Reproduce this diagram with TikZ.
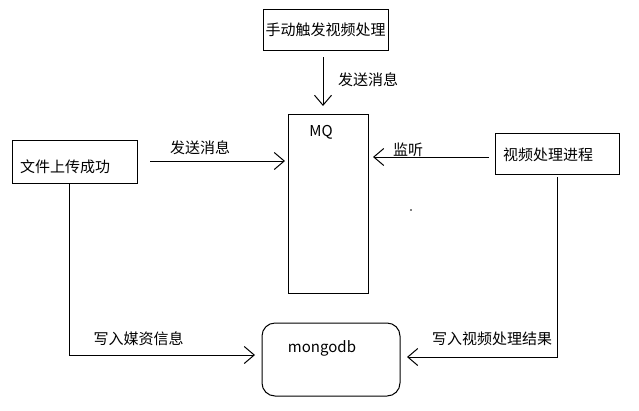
\documentclass[tikz,border=0pt]{standalone}
\usepackage{fontspec}
\setmainfont{Noto Sans CJK SC}
\usetikzlibrary{arrows.meta}
\begin{document}
\begin{tikzpicture}[x=1pt,y=-1pt,
  every node/.style={font=\fontsize{15pt}{18pt}\selectfont, inner sep=0pt},
  boxnode/.style={draw, line width=1pt, minimum width=#1, fill=none},
  conn/.style={line width=1pt},
  arr/.style={line width=1pt, -{Straight Barb[length=10pt,width=17pt]}}]
\useasboundingbox[fill=white] (0,0) rectangle (639,410);
% boxes
\node[draw, line width=1pt, minimum width=125pt, minimum height=41pt] (top) at (325.5,29.5) {手动触发视频处理};
\node[draw, line width=1pt, minimum width=80pt, minimum height=179pt] (mq) at (328,203.5) {};
\node (mqtxt) at (321,132) {MQ};
\node[draw, line width=1pt, minimum width=125pt, minimum height=43pt] (lbox) at (74.5,161.5) {};
\node[anchor=west] (ltxt) at (20,167) {文件上传成功};
\node[draw, line width=1pt, minimum width=124pt, minimum height=41pt] (rbox) at (557,153.5) {};
\node (rtxt) at (548,155) {视频处理进程};
\node[draw, line width=1pt, rounded corners=13pt, minimum width=138pt, minimum height=73pt] (db) at (331,359.5) {};
\node (dbtxt) at (322,348) {mongodb};
% coordinates
\coordinate (t1) at (323,57);
\coordinate (t2) at (323,106);
\coordinate (l1) at (150,161);
\coordinate (l2) at (285,161);
\coordinate (r1) at (489,157);
\coordinate (r2) at (373,157);
\coordinate (lb1) at (69,183);
\coordinate (lb2) at (69,355);
\coordinate (lb3) at (255,355);
\coordinate (rb1) at (557,177);
\coordinate (rb2) at (557,357);
\coordinate (rb3) at (407,357);
% connectors
\draw[arr] (t1) -- (t2);
\draw[arr] (l1) -- (l2);
\draw[arr] (r1) -- (r2);
\draw[arr] (lb1) -- (lb2) -- (lb3);
\draw[arr] (rb1) -- (rb2) -- (rb3);
% labels
\node (lab1) at (368,80) {发送消息};
\node (lab2) at (200,148) {发送消息};
\node (lab3) at (408,150) {监听};
\node (lab4) at (138.5,339) {写入媒资信息};
\node (lab5) at (492,339) {写入视频处理结果};
\fill (411,210) circle (0.8pt);
\end{tikzpicture}
\end{document}
